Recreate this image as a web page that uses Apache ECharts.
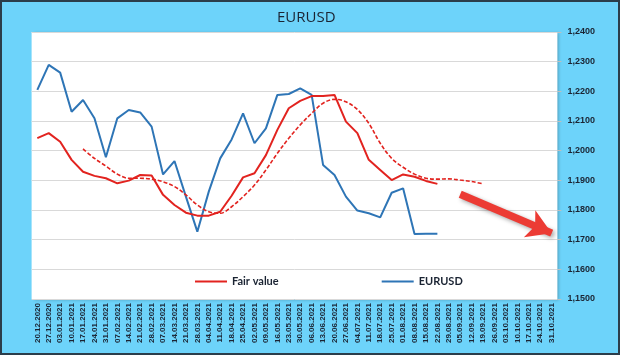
<!DOCTYPE html>
<html>
<head>
<meta charset="utf-8">
<script src="https://cdn.jsdelivr.net/npm/echarts@6/dist/echarts.min.js"></script>
<style>html,body{margin:0;padding:0;background:#6dd3fa}#c{width:620px;height:355px}</style>
</head>
<body>
<div id="c"></div>
<script>
var categories = ["20.12.2020","27.12.2020","03.01.2021","10.01.2021","17.01.2021","24.01.2021","31.01.2021","07.02.2021","14.02.2021","21.02.2021","28.02.2021","07.03.2021","14.03.2021","21.03.2021","28.03.2021","04.04.2021","11.04.2021","18.04.2021","25.04.2021","02.05.2021","09.05.2021","16.05.2021","23.05.2021","30.05.2021","06.06.2021","13.06.2021","20.06.2021","27.06.2021","04.07.2021","11.07.2021","18.07.2021","25.07.2021","01.08.2021","08.08.2021","15.08.2021","22.08.2021","29.08.2021","05.09.2021","12.09.2021","19.09.2021","26.09.2021","03.10.2021","10.10.2021","17.10.2021","24.10.2021","31.10.2021"];

var fairValue = [1.2042,1.2059,1.2030,1.1969,1.1929,1.1915,1.1907,1.1890,1.1899,1.1918,1.1916,1.1851,1.1817,1.1791,1.1781,1.1781,1.1794,1.1848,1.1910,1.1924,1.1985,1.2070,1.2143,1.2168,1.2184,1.2184,1.2188,1.2098,1.2059,1.1969,1.1935,1.1901,1.1920,1.1912,1.1898,1.1888];

var eurusd = [1.2205,1.2289,1.2263,1.2131,1.2171,1.2109,1.1978,1.2109,1.2137,1.2129,1.2081,1.1920,1.1965,1.1845,1.1727,1.1862,1.1974,1.2038,1.2126,1.2025,1.2075,1.2188,1.2191,1.2210,1.2188,1.1952,1.1918,1.1845,1.1798,1.1789,1.1775,1.1858,1.1873,1.1719,1.1720,1.1720];

var fairTrend = [null,null,null,null,1.2006,1.1974,1.1948,1.1921,1.1907,1.1907,1.1904,1.1895,1.1879,1.1851,1.1817,1.1794,1.1789,1.1811,1.1845,1.1884,1.1935,1.1991,1.2042,1.2087,1.2126,1.2160,1.2173,1.2165,1.2139,1.2092,1.2025,1.1974,1.1944,1.1921,1.1907,1.1904,1.1905,1.1901,1.1896,1.1888];

var arrowStart = [37, 1.1853];
var arrowEnd = [45, 1.1722];

var yMin = 1.15, yMax = 1.24, yStep = 0.01;

var chart = echarts.init(document.getElementById('c'));
chart.setOption({
  backgroundColor: '#6dd3fa',
  animation: false,
  title: {
    text: 'EURUSD', left: 272, top: 5,
    textStyle: {fontFamily: 'Open Sans', fontSize: 15, fontWeight: 500, color: '#1b2433'}
  },
  legend: {
    data: ['Fair value', 'EURUSD'],
    left: 190, top: 271,
    itemWidth: 32, itemHeight: 2, itemGap: 103, icon: 'rect',
    textStyle: {fontFamily: 'Lato', fontSize: 11, fontWeight: 'bold', color: '#1b2433'}
  },
  graphic: [{
    type: 'rect', silent: true, z: 100,
    shape: {x: 1, y: 1, width: 618, height: 353},
    style: {fill: 'none', stroke: '#2b3d4a', lineWidth: 2}
  }],
  grid: {
    left: 31.6, right: 62.6, top: 32, bottom: 56,
    show: true, backgroundColor: '#ffffff', borderWidth: 0,
    shadowColor: 'rgba(0,0,0,0.25)', shadowBlur: 3, shadowOffsetX: 2, shadowOffsetY: 1
  },
  xAxis: {
    type: 'category', data: categories, boundaryGap: true,
    axisLine: {show: false}, axisTick: {show: false},
    axisLabel: {interval: 0, rotate: 90, margin: 4, fontFamily: 'Liberation Sans', fontSize: 8, fontWeight: 'bold', color: '#1b2433'}
  },
  yAxis: {
    type: 'value', position: 'right', min: yMin, max: yMax, interval: yStep,
    axisLine: {show: false},
    axisTick: {show: true, length: 4, lineStyle: {color: '#bfbfbf'}},
    axisLabel: {margin: 10, fontFamily: 'Liberation Sans', fontSize: 9, fontWeight: 'bold', color: '#1b2433',
      formatter: function (v) { return v.toFixed(4).replace('.', ','); }},
    splitLine: {lineStyle: {color: '#d9d9d9', width: 1}}
  },
  series: [
    {
      name: 'Fair value', type: 'line', data: fairValue, symbol: 'none',
      lineStyle: {color: '#e2231f', width: 2}, itemStyle: {color: '#e2231f'}, z: 3
    },
    {
      name: 'EURUSD', type: 'line', data: eurusd, symbol: 'none',
      lineStyle: {color: '#2e75b6', width: 2}, itemStyle: {color: '#2e75b6'}, z: 2
    },
    {
      name: 'Fair trend', type: 'line', data: fairTrend, symbol: 'none', smooth: 0.35,
      lineStyle: {color: '#e2231f', width: 1.6, type: [4, 2]}, itemStyle: {color: '#e2231f'}, z: 3,
      markLine: {
        silent: true, symbol: ['none', 'arrow'], symbolSize: [22, 24],
        label: {show: false},
        lineStyle: {color: '#ec3b34', width: 7.5, type: 'solid',
          shadowColor: 'rgba(0,0,0,0.35)', shadowBlur: 4, shadowOffsetX: 2, shadowOffsetY: 2},
        data: [[{coord: arrowStart}, {coord: arrowEnd}]]
      }
    }
  ]
});
</script>
</body>
</html>
